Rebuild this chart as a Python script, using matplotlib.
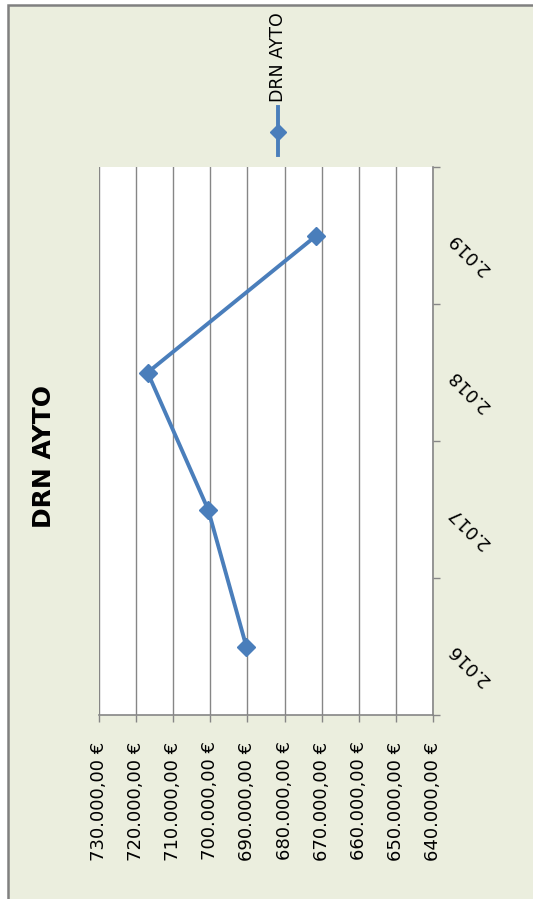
import matplotlib
matplotlib.use("Agg")
import matplotlib.pyplot as plt
from matplotlib.lines import Line2D
from matplotlib.patches import Rectangle
from matplotlib.ticker import FixedLocator

# ---- data ----
categories = ["2.016", "2.017", "2.018", "2.019"]
values = [690300, 700600, 716900, 671400]
series_name = "DRN AYTO"
title = "DRN AYTO"
value_ticks = [730000, 720000, 710000, 700000, 690000, 680000, 670000, 660000, 650000, 640000]
value_labels = ["730.000,00 €", "720.000,00 €", "710.000,00 €", "700.000,00 €", "690.000,00 €",
                "680.000,00 €", "670.000,00 €", "660.000,00 €", "650.000,00 €", "640.000,00 €"]

W, H = 533, 899
DPI = 100
BG = "#EBEEDE"
BLUE = "#4A7EBB"
GRID = "#868686"

fig = plt.figure(figsize=(W / DPI, H / DPI), dpi=DPI, facecolor="white")

# chart area background with left/top border
fig.add_artist(Rectangle((7.5 / W, -0.1), 1.2, 1 - 4.5 / H + 0.1, transform=fig.transFigure,
                         facecolor=BG, edgecolor="#808080", linewidth=1.8, zorder=0))

ax = fig.add_axes([99 / W, 1 - 715 / H, (433 - 99) / W, (715 - 167) / H])
ax.set_facecolor("white")

ypos = list(range(len(categories)))
ax.plot(values, ypos, color=BLUE, linewidth=2.8, marker="D", markersize=9,
        markerfacecolor=BLUE, markeredgecolor=BLUE, zorder=3, solid_joinstyle="round")

ax.set_xlim(730000, 640000)
ax.set_ylim(-0.5, len(categories) - 0.5)

ax.set_xticks(value_ticks)
ax.set_xticklabels(value_labels, rotation=90, fontsize=13, family="DejaVu Sans")
ax.tick_params(axis="x", direction="out", length=5, width=1, color=GRID, pad=14)
ax.grid(axis="x", color=GRID, linewidth=1)
ax.set_axisbelow(True)

ax.yaxis.tick_right()
ax.set_yticks(ypos)
ax.set_yticklabels(categories, fontsize=13)
ax.yaxis.set_minor_locator(FixedLocator([i - 0.5 for i in range(len(categories) + 1)]))
ax.tick_params(axis="y", which="major", length=0, pad=13)
ax.tick_params(axis="y", which="minor", direction="out", length=5, width=1, color=GRID)
for lab in ax.get_yticklabels():
    lab.set_rotation(135)
    lab.set_rotation_mode("anchor")
    lab.set_ha("right")
    lab.set_va("center")

for s in ["top", "left"]:
    ax.spines[s].set_visible(False)
for s in ["bottom", "right"]:
    ax.spines[s].set_color(GRID)
    ax.spines[s].set_linewidth(1.2)

# title (rotated)
fig.text(44 / W, 1 - 457 / H, title, rotation=90, fontsize=18, fontweight="bold",
         ha="center", va="center")

# legend (rotated)
lx = 278 / W
fig.add_artist(Line2D([lx, lx], [1 - 155 / H, 1 - 107 / H], transform=fig.transFigure,
                      color=BLUE, linewidth=2.8))
fig.add_artist(Line2D([lx], [1 - 132 / H], transform=fig.transFigure, color=BLUE,
                      marker="D", markersize=8, linestyle="none"))
fig.text(lx, 1 - 102 / H, series_name, rotation=90, fontsize=12.5, ha="center", va="bottom")

fig.savefig("out.png", dpi=DPI, facecolor=fig.get_facecolor())
